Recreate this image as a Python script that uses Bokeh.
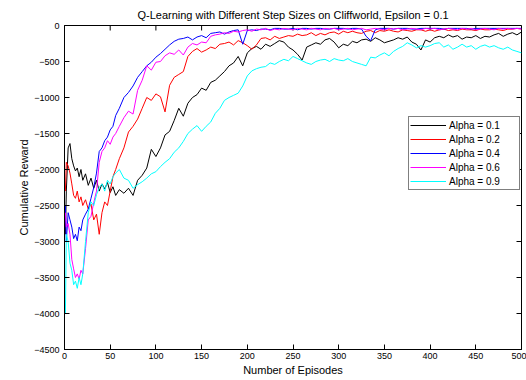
import math
from bokeh.plotting import figure
from bokeh.models import Range1d, FixedTicker, Legend, LegendItem
from bokeh.embed import file_html
from bokeh.resources import INLINE

EPISODES = [1, 2, 4, 6, 8, 10, 12, 14, 16, 18, 20, 23, 26, 29, 32, 35, 38, 41, 44, 47, 50, 53, 56, 60] + list(range(65, 501, 5))

ALPHA_01 = [
    -2900, -2300, -1700, -1640, -1850, -1950, -2020, -1980, -2100, -2000,
    -2150, -2060, -2220, -2120, -2260, -2150, -2300, -2200, -2270, -2180,
    -2320, -2240, -2360, -2280,
    -2330, -2260, -2360, -2150, -2080, -1980, -1720, -1820, -1700, -1520,
    -1470, -1320, -1150, -1260, -1080, -1000, -960, -870, -900, -790,
    -760, -700, -640, -560, -520, -430, -560, -380, -320, -290,
    -330, -260, -290, -250, -210, -230, -300, -340, -400, -480,
    -300, -270, -240, -260, -200, -180, -230, -310, -260, -280,
    -220, -240, -200, -190, -220, -170, -200, -240, -220, -200,
    -170, -190, -160, -230, -260, -340, -200, -230, -170, -150,
    -170, -130, -160, -140, -190, -160, -170, -140, -180, -150,
    -160, -130, -110, -150, -120, -100, -130, -90,
]

ALPHA_02 = [
    -2300, -1900, -1950, -2050, -2200, -2360, -2400, -2300, -2450, -2380,
    -2500, -2420, -2550, -2480, -2700, -2620, -2900, -2600, -2450, -2500,
    -2300, -2100, -2000, -1850,
    -1700, -1480, -1400, -1300, -1150, -1000, -1040, -950, -990, -1200,
    -830, -720, -680, -640, -430, -360, -320, -370, -340, -300,
    -320, -260, -250, -230, -270, -210, -240, -280, -330, -270,
    -180, -170, -200, -150, -180, -160, -140, -150, -120, -140,
    -130, -100, -140, -110, -130, -100, -90, -120, -80, -100,
    -80, -100, -110, -80, -70, -100, -70, -80, -60, -80,
    -90, -60, -70, -80, -60, -60, -80, -60, -80, -60,
    -50, -70, -60, -70, -50, -60, -60, -70, -50, -60,
    -60, -50, -60, -70, -50, -50, -40, -50,
]

ALPHA_04 = [
    -2500, -3000, -2600, -2700, -2800, -2960, -2900, -2990, -2800, -2850,
    -2700, -2620, -2550, -2400, -2250, -2050, -1750, -1700, -1600, -1550,
    -1450, -1400, -1250, -1150,
    -1000, -930, -840, -720, -640, -560, -510, -440, -390, -330,
    -270, -220, -190, -180, -160, -200, -160, -140, -170, -110,
    -100, -90, -120, -90, -70, -60, -260, -70, -60, -70,
    -50, -50, -60, -40, -40, -50, -50, -40, -60, -40,
    -40, -50, -40, -40, -50, -50, -40, -40, -40, -50,
    -40, -40, -50, -150, -210, -60, -40, -40, -40, -50,
    -40, -40, -40, -50, -50, -40, -40, -40, -40, -40,
    -50, -40, -40, -40, -40, -40, -50, -40, -40, -40,
    -40, -40, -40, -40, -40, -40, -40, -40,
]

ALPHA_06 = [
    -2600, -2800, -2750, -2900, -3250, -3380, -3500, -3450, -3520, -3400,
    -3450, -3100, -2700, -2650, -2460, -2300, -1900, -1750, -1700, -1600,
    -1650, -1550, -1500, -1400,
    -1280, -1190, -1230, -900, -760, -560, -620, -510, -500, -420,
    -380, -400, -340, -410, -300, -250, -270, -230, -240, -150,
    -130, -120, -100, -110, -80, -90, -70, -60, -80, -50,
    -60, -40, -70, -50, -60, -40, -50, -60, -40, -50,
    -60, -40, -50, -60, -40, -50, -40, -60, -50, -40,
    -60, -50, -40, -60, -50, -40, -50, -60, -40, -50,
    -40, -60, -50, -40, -50, -60, -40, -50, -40, -60,
    -50, -40, -50, -60, -40, -50, -40, -60, -50, -40,
    -50, -60, -40, -50, -40, -50, -40, -50,
]

ALPHA_09 = [
    -4000, -2900, -3000, -3300, -3400, -3600, -3550, -3650, -3500, -3600,
    -3450, -3000, -2600, -2450, -2500, -2350, -2250, -2200, -2300, -2150,
    -2200, -2100, -2050, -2000,
    -2120, -2150, -2260, -2210, -2170, -2120, -2060, -2030, -1960, -1900,
    -1850, -1760, -1700, -1610, -1500, -1440, -1390, -1470, -1400, -1340,
    -1220, -1150, -1040, -1000, -970, -940, -840, -700, -630, -600,
    -580, -570, -520, -540, -500, -470, -490, -430, -460, -490,
    -520, -540, -500, -480, -470, -500, -460, -480, -490, -460,
    -500, -520, -540, -560, -440, -450, -410, -380, -420, -360,
    -320, -290, -240, -270, -310, -280, -300, -280, -250, -240,
    -300, -270, -330, -300, -260, -300, -280, -330, -290, -270,
    -300, -280, -310, -330, -300, -340, -360, -380,
]

LABELS = ["Alpha = 0.1", "Alpha = 0.2", "Alpha = 0.4", "Alpha = 0.6", "Alpha = 0.9"]
COLORS = ["#000000", "#ff0000", "#0000ff", "#ff00ff", "#00ffff"]
SERIES = [ALPHA_01, ALPHA_02, ALPHA_04, ALPHA_06, ALPHA_09]

X_TICKS = [0, 50, 100, 150, 200, 250, 300, 350, 400, 450, 500]
Y_TICKS = [0, -500, -1000, -1500, -2000, -2500, -3000, -3500, -4000, -4500]
X_MIN, X_MAX = 0, 500
Y_MIN, Y_MAX = -4500, 0

for s in SERIES:
    assert len(s) == len(EPISODES), (len(s), len(EPISODES))

FONT = "Liberation Sans"

p = figure(width=526, height=380, output_backend="svg", toolbar_location=None,
           x_range=Range1d(X_MIN, X_MAX), y_range=Range1d(Y_MIN, Y_MAX),
           min_border_left=64, min_border_right=5, min_border_top=25, min_border_bottom=31,
           title="Q-Learning with Different Step Sizes on Cliffworld, Epsilon = 0.1")
p.background_fill_color = "white"
p.border_fill_color = "white"
p.outline_line_color = "black"
p.grid.visible = False

p.title.align = "center"
p.title.text_font = FONT
p.title.text_font_size = "11px"
p.title.text_font_style = "normal"
p.title.text_color = "black"

p.xaxis.ticker = FixedTicker(ticks=X_TICKS)
p.yaxis.ticker = FixedTicker(ticks=Y_TICKS)
for ax in (p.xaxis[0], p.yaxis[0]):
    ax.major_tick_in = 5
    ax.major_tick_out = 0
    ax.minor_tick_in = 0
    ax.minor_tick_out = 0
    ax.axis_line_color = "black"
    ax.major_tick_line_color = "black"
    ax.major_label_text_font = FONT
    ax.major_label_text_color = "black"
    ax.major_label_text_font_size = "9px"
    ax.axis_label_text_font = FONT
    ax.axis_label_text_font_size = "11px"
    ax.axis_label_text_font_style = "normal"
    ax.axis_label_text_color = "black"
p.xaxis.major_label_standoff = 3
p.yaxis.major_label_standoff = 5
p.xaxis.axis_label = "Number of Episodes"
p.yaxis.axis_label = "Cumulative Reward"
p.xaxis.axis_label_standoff = 2
p.yaxis.axis_label_standoff = 1

# inward tick marks on the top and right edges of the box (MATLAB "box on")
p.ray(x=X_TICKS, y=[Y_MAX] * len(X_TICKS), length=5, length_units="screen",
      angle=-math.pi / 2, line_color="black", line_width=1)
p.ray(x=[X_MAX] * len(Y_TICKS), y=Y_TICKS, length=5, length_units="screen",
      angle=math.pi, line_color="black", line_width=1)

items = []
for lab, col, ys in zip(LABELS, COLORS, SERIES):
    r = p.line(EPISODES, ys, line_color=col, line_width=1)
    items.append(LegendItem(label=lab, renderers=[r]))

legend = Legend(items=items, location=(344, 159))
legend.label_text_font = FONT
legend.label_text_font_size = "10px"
legend.label_text_color = "black"
legend.glyph_width = 36
legend.glyph_height = 14
legend.label_height = 14
legend.label_width = 69
legend.label_standoff = 3
legend.spacing = 0
legend.padding = 1
legend.margin = 0
legend.border_line_color = "black"
legend.background_fill_alpha = 1
p.add_layout(legend, "center")

open("out.html", "w").write(file_html(p, INLINE))
